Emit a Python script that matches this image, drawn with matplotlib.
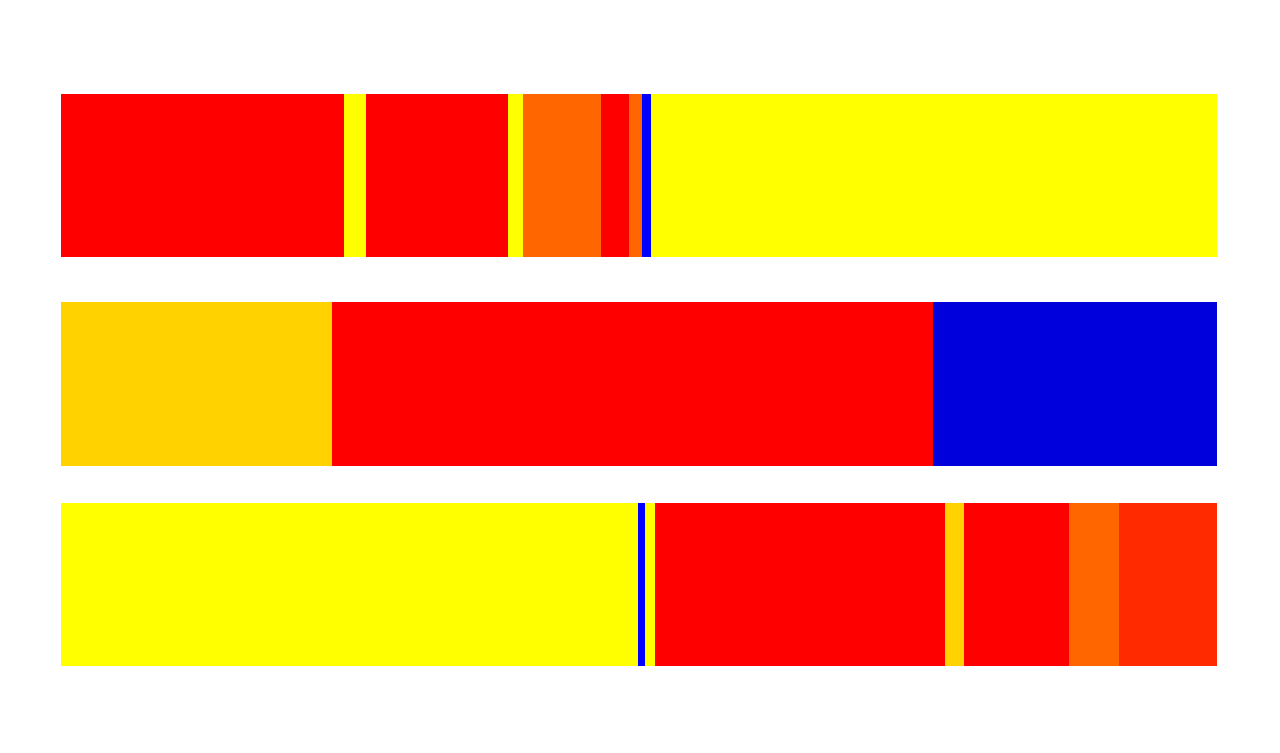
import matplotlib

matplotlib.use("Agg")
import matplotlib.pyplot as plt

# segment widths per row (left to right), with their colours
row_labels = ["top", "middle", "bottom"]

top_widths = [283, 22, 142, 15, 78, 28, 13, 9, 566]
top_colors = ["#ff0000", "#ffff00", "#ff0000", "#ffff00", "#ff6600",
              "#ff0000", "#ff6600", "#0000ff", "#ffff00"]

middle_widths = [271, 601, 284]
middle_colors = ["#ffd200", "#ff0000", "#0000dd"]

bottom_widths = [459, 118, 7, 10, 290, 19, 66, 39, 50, 98]
bottom_colors = ["#ffff00", "#ffff00", "#0000ff", "#ffff00", "#ff0000",
                 "#ffd200", "#ff0000", "#ff0000", "#ff6600", "#ff2a00"]

rows = [
    (top_widths, top_colors),
    (middle_widths, middle_colors),
    (bottom_widths, bottom_colors),
]
# bar centres are not quite evenly spaced in the reference
row_pos = [0, 1.02, 2]

fig = plt.figure(figsize=(12.8, 7.53), dpi=100)
ax = fig.add_axes([61 / 1280, 87 / 753, 1156 / 1280, 572 / 753])

for pos, (widths, colors) in zip(row_pos, rows):
    left = 0
    for w, c in zip(widths, colors):
        ax.barh(pos, w, left=left, height=0.8, color=c, linewidth=0)
        left += w

total = sum(top_widths)
ax.set_xlim(0, total)
ax.set_ylim(len(rows) - 0.6, -0.4)
ax.axis("off")

fig.savefig("out.png", dpi=100)
